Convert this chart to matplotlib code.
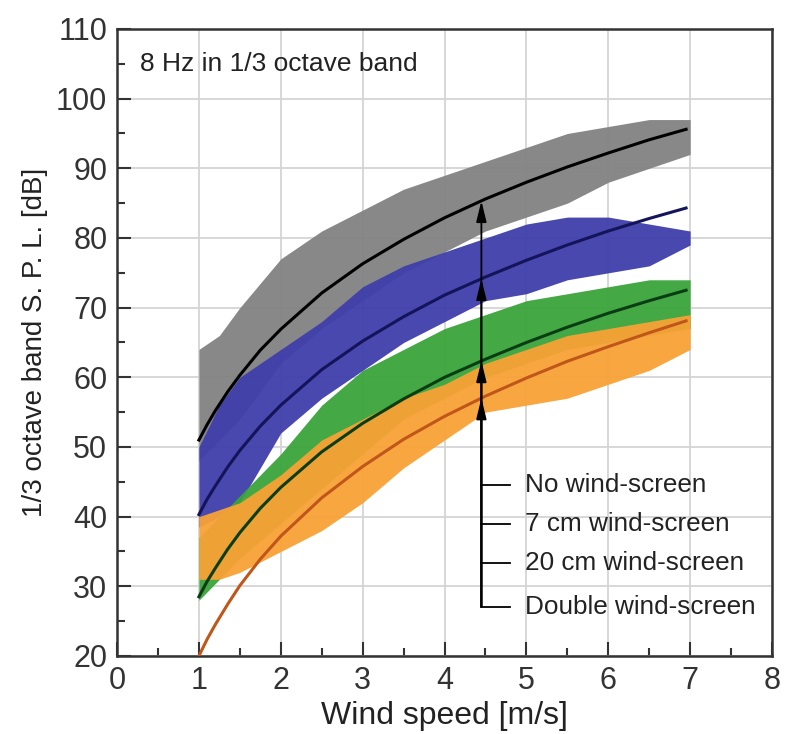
import numpy as np
import matplotlib
matplotlib.use("Agg")
import matplotlib.pyplot as plt

# fitted curves, values
fit_x = [1.0, 1.1, 1.2, 1.35, 1.5, 1.75, 2.0, 2.5, 3.0, 3.5, 4.0, 4.5, 5.0, 5.5, 6.0, 6.5, 6.95]
fit_none = [51.0, 53.2, 55.2, 57.9, 60.3, 63.9, 66.9, 72.1, 76.3, 79.8, 82.9, 85.6, 88.0, 90.2, 92.2, 94.1, 95.6]
fit_7cm = [40.3, 42.5, 44.4, 47.1, 49.5, 53.0, 56.0, 61.1, 65.2, 68.7, 71.8, 74.4, 76.8, 79.0, 81.0, 82.8, 84.3]
fit_20cm = [28.5, 30.7, 32.6, 35.3, 37.7, 41.2, 44.2, 49.3, 53.4, 56.9, 60.0, 62.6, 65.0, 67.2, 69.2, 71.0, 72.5]
fit_double = [20.0, 22.4, 24.5, 27.4, 30.1, 33.9, 37.2, 42.7, 47.2, 51.1, 54.4, 57.3, 59.9, 62.3, 64.4, 66.4, 68.1]

# extent of each measured cloud (lower / upper edge)
cloud_x = [1.0, 1.25, 1.5, 2.0, 2.5, 3.0, 3.5, 4.0, 4.5, 5.0, 5.5, 6.0, 6.5, 7.0]
none_lo = [48, 51, 54, 62, 67, 71, 75, 78, 81, 83, 85, 88, 90, 92]
none_hi = [64, 66, 70, 77, 81, 84, 87, 89, 91, 93, 95, 96, 97, 97]
cm7_lo = [38.5, 40, 42, 52, 57, 61, 65, 68, 71, 72, 74, 75, 76, 79]
cm7_hi = [50, 56, 60, 64, 68, 73, 76, 78, 80, 82, 83, 83, 82, 81]
cm20_lo = [28, 31, 34, 39, 44, 49, 54, 57, 60, 62, 64, 65, 66, 67]
cm20_hi = [37, 40, 43, 49, 56, 61, 64, 67, 69, 71, 72, 73, 74, 74]
dbl_lo = [31, 31, 32, 35, 38, 42, 47, 51, 55, 56, 57, 59, 61, 64]
dbl_hi = [40, 41, 42, 46, 51, 54, 57, 59, 62, 64, 66, 67, 68, 69]

labels = ["No wind-screen", "7 cm wind-screen", "20 cm wind-screen", "Double wind-screen"]

plt.rcParams['font.family'] = ['Liberation Sans', 'DejaVu Sans']

fig = plt.figure(figsize=(7.87, 7.34), dpi=100)
ax = fig.add_axes([0.1487, 0.1063, 0.8323, 0.8542])

clouds = [
    (none_lo, none_hi, "#828282"),
    (cm7_lo, cm7_hi, "#3e3eaa"),
    (cm20_lo, cm20_hi, "#3aa53a"),
    (dbl_lo, dbl_hi, "#f8a236"),
]
for lo, hi, col in clouds:
    ax.fill_between(cloud_x, lo, hi, color=col, lw=0, alpha=0.95, zorder=2)

fits = [
    (fit_none, "#000000"),
    (fit_7cm, "#14145a"),
    (fit_20cm, "#0b3d14"),
    (fit_double, "#c0561a"),
]
for ys, col in fits:
    ax.plot(fit_x, ys, color=col, lw=2.2, zorder=3)

# bracket with arrows pointing at each fitted curve
xa = 4.45
y_rows = [44.6, 39.0, 33.4, 27.1]
for ys, col in fits:
    yt = np.interp(xa, fit_x, ys)
    ax.annotate("", xy=(xa, yt), xytext=(xa, y_rows[-1]),
                arrowprops=dict(arrowstyle="-|>,head_length=0.9,head_width=0.22",
                                color="black", lw=1.3, shrinkA=0, shrinkB=0,
                                mutation_scale=14), zorder=4)
for yr, lab in zip(y_rows, labels):
    ax.plot([xa, 4.8], [yr, yr], color="black", lw=1.3, zorder=4)
    ax.text(4.98, yr, lab, fontsize=18.8, va="center", ha="left", color="#222222", zorder=5)

ax.text(0.28, 105.0, "8 Hz in 1/3 octave band", fontsize=19, va="center", ha="left",
        color="#222222")

ax.set_xlim(0, 8)
ax.set_ylim(20, 110)
ax.set_xticks(np.arange(0, 9, 1))
ax.set_xticks(np.arange(0.5, 8, 1), minor=True)
ax.set_yticks(np.arange(20, 111, 10))
ax.set_yticks(np.arange(25, 110, 10), minor=True)
ax.grid(True, which="major", color="#d4d4d4", lw=1.3, zorder=0)
ax.set_axisbelow(True)
ax.tick_params(which="major", direction="in", length=10, width=1.5, colors="#333333",
               labelsize=22, pad=7)
ax.tick_params(which="minor", direction="in", length=5.5, width=1.5, colors="#333333")
for s in ax.spines.values():
    s.set_linewidth(1.8)
    s.set_color("#333333")

ax.set_xlabel("Wind speed [m/s]", fontsize=23, color="#222222", labelpad=4)
ax.set_ylabel("1/3 octave band S. P. L. [dB]", fontsize=20, color="#222222", labelpad=6)

fig.savefig("out.png", dpi=100)
